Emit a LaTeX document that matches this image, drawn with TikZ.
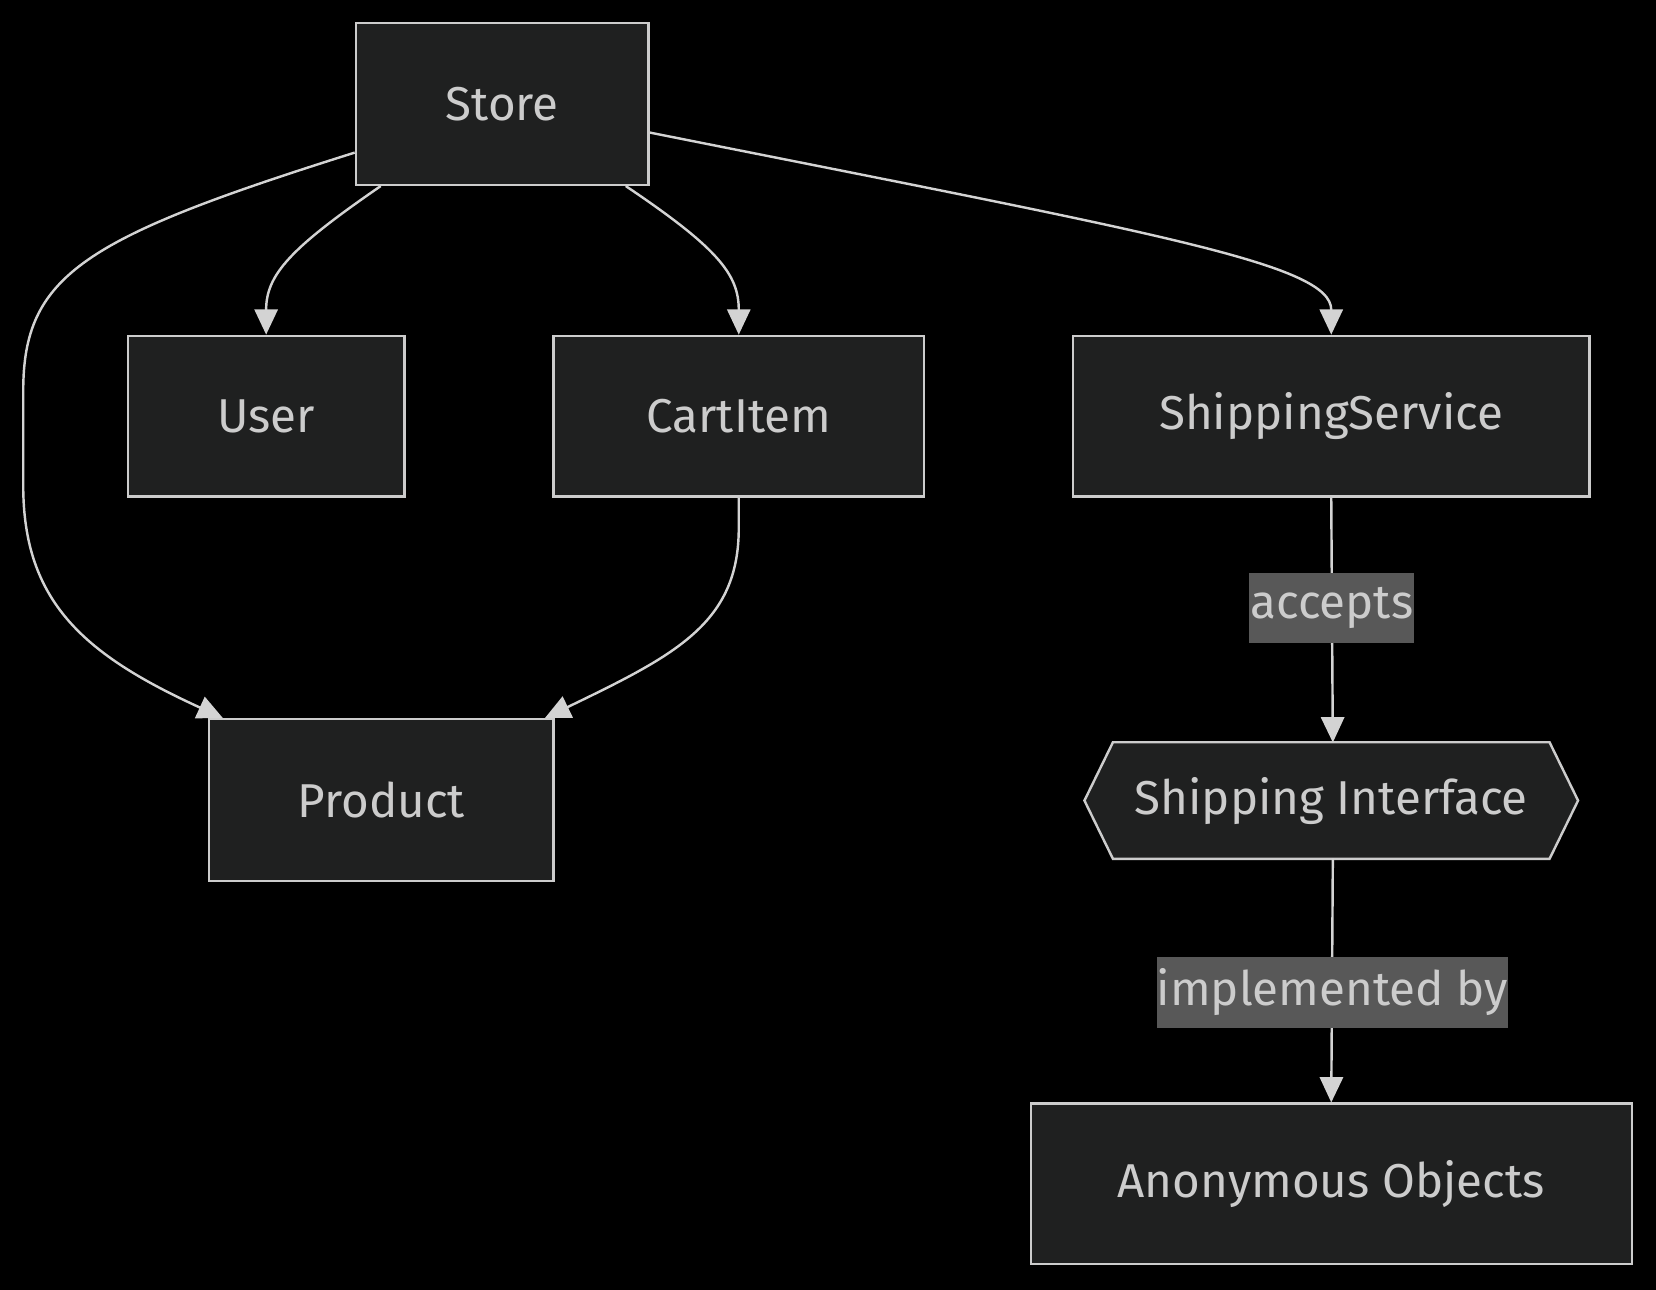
\documentclass[tikz,border=0pt]{standalone}
\usepackage{fontspec}
\setmainfont{Fira Sans}
\usetikzlibrary{arrows.meta}
\definecolor{bgc}{HTML}{000000}
\definecolor{nodefill}{HTML}{1F2020}
\definecolor{nodestroke}{HTML}{CCCCCC}
\definecolor{txt}{HTML}{CCCCCC}
\definecolor{edgec}{HTML}{D3D3D3}
\definecolor{lblbg}{HTML}{585858}
\tikzset{
  box/.style={draw=nodestroke, fill=nodefill, line width=2.3pt, text=txt, inner sep=0pt,
    font=\fontsize{45}{52}\selectfont},
  hexnode/.style={inner sep=0pt, text=txt, font=\fontsize{45}{52}\selectfont},
  lbl/.style={fill=lblbg, text=txt, inner sep=0pt, font=\fontsize{45}{52}\selectfont},
  conn/.style={draw=edgec, line width=2.3pt, -{Triangle[length=24pt,width=22pt]}},
}
\begin{document}
\begin{tikzpicture}[x=1pt,y=-1pt]
\fill[bgc] (0,0) rectangle (1568,1221.4);
\useasboundingbox (0,0) rectangle (1568,1221.4);

\node[box, minimum width=277pt, minimum height=153pt] (store) at (475.5,98.5) {Store};
\node[box, minimum width=262pt, minimum height=152pt] (user) at (252,394) {User};
\node[box, minimum width=351pt, minimum height=152pt] (cart) at (699.5,394) {CartItem};
\node[box, minimum width=489pt, minimum height=152pt] (ship) at (1260.5,394) {ShippingService};
\node[box, minimum width=326pt, minimum height=153pt] (prod) at (361,757.5) {Product};
\node[hexnode, minimum width=467pt, minimum height=110pt] (iface) at (1260.5,758) {};
\draw[draw=nodestroke, fill=nodefill, line width=2.3pt]
  ([xshift=27pt]iface.north west) -- ([xshift=-27pt]iface.north east) -- (iface.east)
  -- ([xshift=-27pt]iface.south east) -- ([xshift=27pt]iface.south west) -- (iface.west) -- cycle;
\node[hexnode] at (iface.center) {Shipping Interface};
\node[box, minimum width=569pt, minimum height=152pt] (anon) at (1260.5,1121) {Anonymous Objects};

% edges
\draw[conn] ([xshift=-115pt]store.south) .. controls (275,235) and (252,260) .. (user.north);
\draw[conn] ([xshift=117pt]store.south) .. controls (680,235) and (699.5,260) .. (cart.north);
\draw[conn] ([yshift=-27pt]store.east) .. controls (1100,222) and (1260.5,250) .. (ship.north);
\draw[conn] ([yshift=-46pt]store.west) .. controls (80,225) and (22,260) .. (22,370)
  -- (22,460) .. controls (22,570) and (80,620) .. ([xshift=-150pt]prod.north);
\draw[conn] (cart.south) -- (699.5,500) .. controls (699.5,590) and (640,620) .. ([xshift=155pt]prod.north);

\coordinate (ifacetop) at (1262,703);
\coordinate (ifacebot) at (1262,813);
\draw[conn] (ship.south) -- (ifacetop);
\draw[conn] (ifacebot) -- (anon.north);

\node[lbl, minimum width=156pt, minimum height=66pt] (lacc) at (1261,576) {accepts};
\node[lbl, minimum width=331pt, minimum height=67pt] (limp) at (1261.5,939.5) {implemented by};
\end{tikzpicture}
\end{document}
